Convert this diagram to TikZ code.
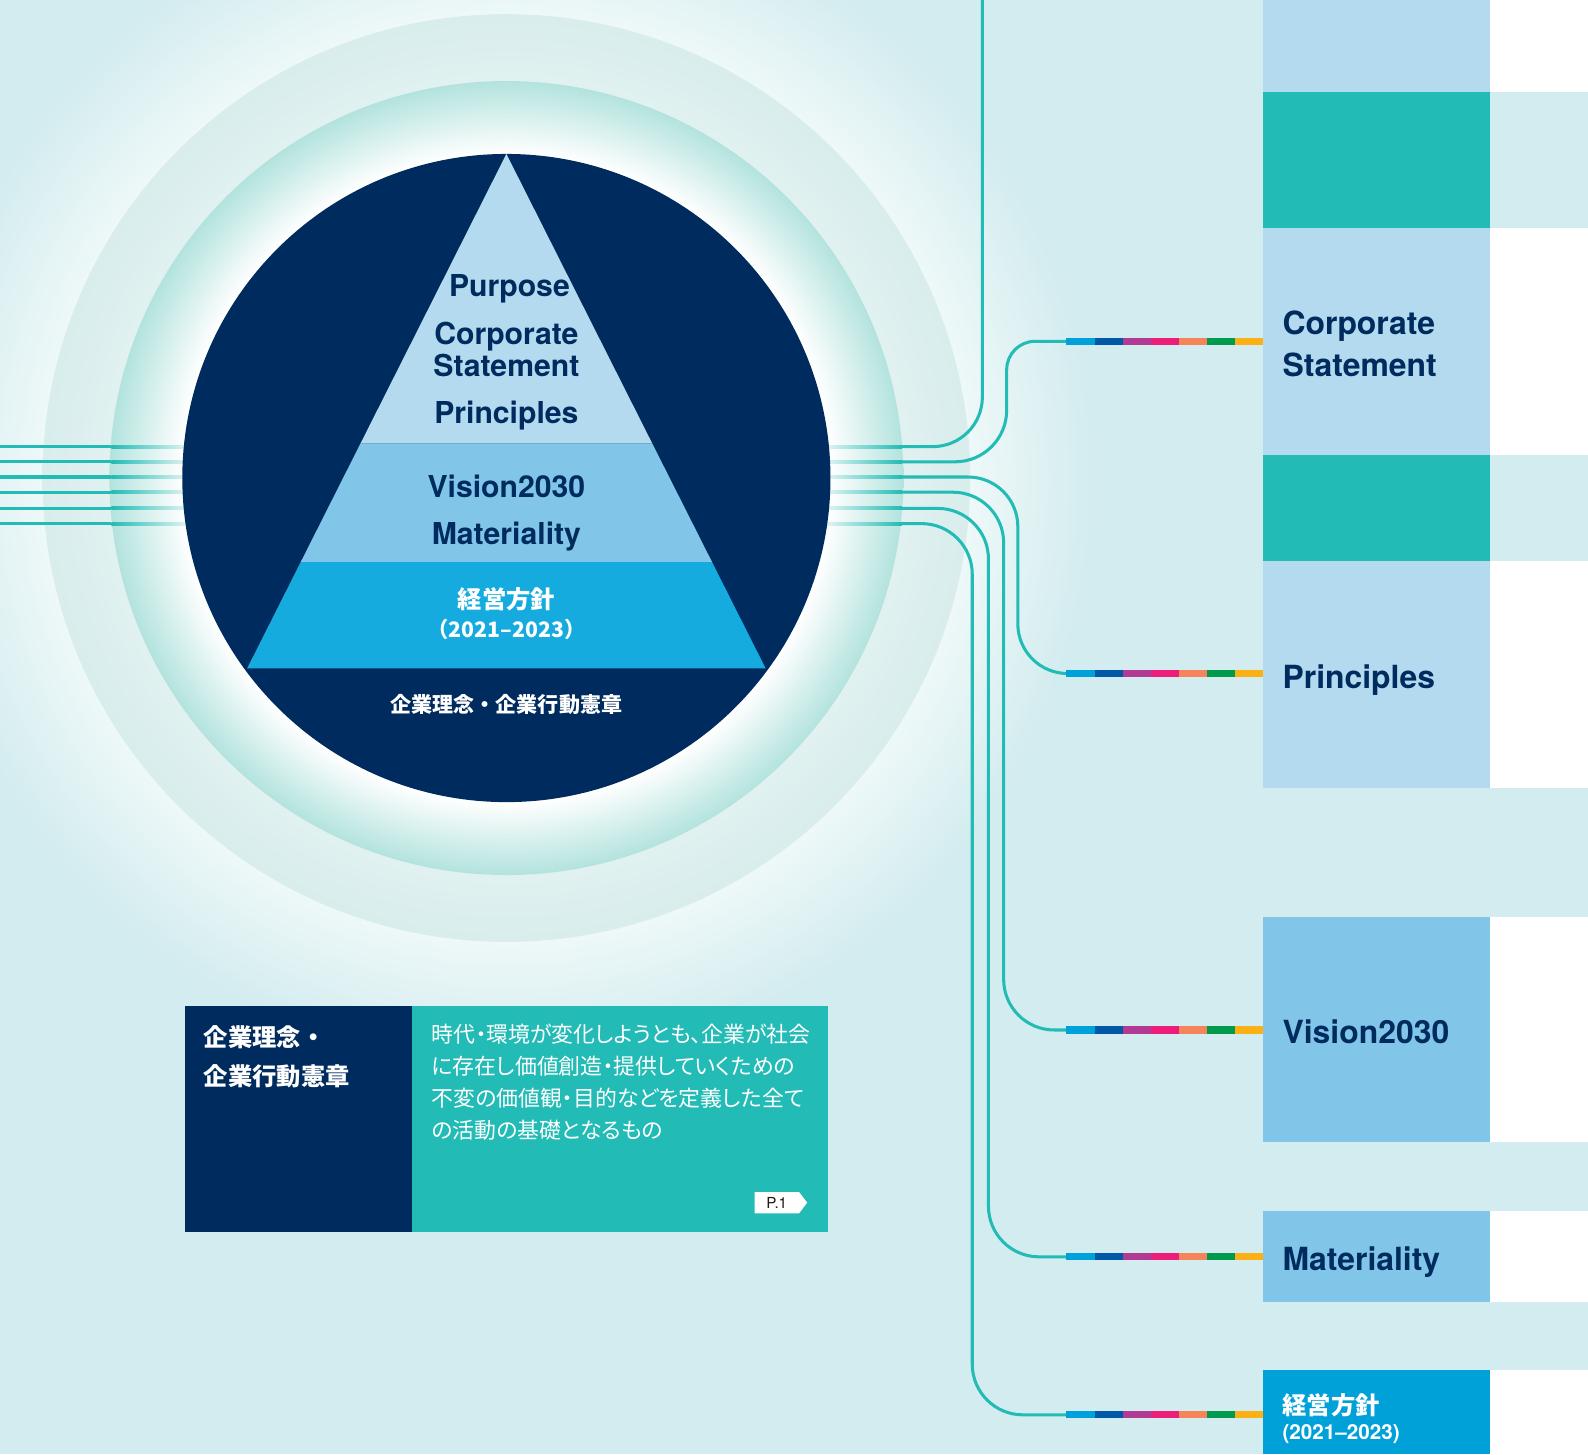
\documentclass[tikz,border=0pt]{standalone}
\usepackage{fontspec}
\setmainfont{TeX Gyre Heros}
\newfontfamily\jp{Noto Sans CJK JP}
\newfontfamily\jpp{Noto Sans CJK JP}[RawFeature=+palt]
\definecolor{bgc}{HTML}{D3ECEF}
\definecolor{glowc}{HTML}{EEF8F8}
\definecolor{obA}{HTML}{E0F1F0}
\definecolor{obB}{HTML}{D8EDEC}
\definecolor{ibB}{HTML}{B3E3DE}
\definecolor{navyc}{HTML}{002B5E}
\definecolor{lbc}{HTML}{B3DAEE}
\definecolor{mbc}{HTML}{81C6E8}
\definecolor{pbc}{HTML}{15ABDE}
\definecolor{bbc}{HTML}{00A0D8}
\definecolor{tealc}{HTML}{22BBB5}
\definecolor{fadec}{HTML}{E4F5F3}
\definecolor{tagtext}{HTML}{231815}
\definecolor{sa}{HTML}{00A0DA}
\definecolor{sb}{HTML}{0059A6}
\definecolor{sc}{HTML}{B03A94}
\definecolor{sd}{HTML}{EC1E79}
\definecolor{se}{HTML}{F5845A}
\definecolor{sf}{HTML}{009A4E}
\definecolor{sg}{HTML}{FBB116}
\pgfdeclareradialshading{glowsh}{\pgfpoint{0bp}{0bp}}{color(0bp)=(glowc); color(19.7bp)=(glowc); color(25bp)=(bgc); color(50bp)=(bgc)}
\pgfdeclareradialshading{outersh}{\pgfpoint{0bp}{0bp}}{color(0bp)=(obA); color(21.4bp)=(obA); color(25bp)=(obB); color(50bp)=(obB)}
\pgfdeclareradialshading{innersh}{\pgfpoint{0bp}{0bp}}{color(0bp)=(white); color(20.4bp)=(white); color(25bp)=(ibB); color(50bp)=(ibB)}
\newcommand\sdgbar[2]{%
  \coordinate (#1) at (1053,#2);
  \foreach \c [count=\i from 0] in {sa,sb,sc,sd,se,sf,sg}{%
    \fill[\c] (1053+\i*27.714,#2-3.6) rectangle ++(27.714,7.2);}%
}
\begin{document}
\begin{tikzpicture}[x=0.5pt,y=-0.5pt,
  conn/.style={draw=tealc,line width=1.5pt},
  pyr/.style={font=\fontsize{14.9}{14.9}\selectfont\bfseries,text=navyc,anchor=base,inner sep=0pt},
  rbox/.style={font=\fontsize{15.75}{15.75}\selectfont\bfseries,text=navyc,anchor=base west,inner sep=0pt},
  jpb/.style={font=\jp\bfseries\fontsize{12}{12}\selectfont,text=white,inner sep=0pt},
  desc/.style={font=\jpp\fontsize{10.8}{10.8}\selectfont,text=white,anchor=base west,inner sep=0pt}]
\useasboundingbox (0,0) rectangle (1568,1436);
\clip (0,0) rectangle (1568,1436);
\fill[bgc] (0,0) rectangle (1568,1436);
% rings
\shade[shading=glowsh] (500,472) circle[radius=580];
\shade[shading=outersh] (500,472) circle[radius=458];
\shade[shading=innersh] (500,472) circle[radius=392];
% right column
\foreach \a/\b in {0/91,225/449,554/778,905/1128,1196/1286,1353/1436}
  \fill[white] (1471,\a) rectangle (1568,\b);
\fill[lbc] (1247,0) rectangle (1471,91);
\fill[tealc] (1247,91) rectangle (1471,225);
\fill[lbc] (1247,225) rectangle (1471,449);
\fill[tealc] (1247,449) rectangle (1471,554);
\fill[lbc] (1247,554) rectangle (1471,778);
\fill[mbc] (1247,905) rectangle (1471,1128);
\fill[mbc] (1247,1196) rectangle (1471,1286);
\fill[bbc] (1247,1353) rectangle (1471,1436);
% left lines
\foreach \y [count=\k] in {441,456,471,486,502,517}{
  \coordinate (La\k) at (-2,\y);
  \coordinate (Lb\k) at (110,\y);
  \draw[conn] (La\k) -- (Lb\k);
  \shade[left color=tealc,right color=fadec] (110,\y-1.5) rectangle (186,\y+1.5);
}
% right lines fade-in
\foreach \y [count=\k] in {441,456,471,486,502,517}{
  \coordinate (R\k) at (890,\y);
  \shade[left color=fadec,right color=tealc] (815,\y-1.5) rectangle (890.5,\y+1.5);
}
\coordinate (T1) at (970,-3);
\coordinate (M2) at (994,396);
\draw[conn,rounded corners=24.5pt] (R1) -- (970,441) -- (T1);
\draw[conn,rounded corners=25.5pt] (R2) -- (994,456) -- (M2);
\draw[conn,rounded corners=14pt] (M2) -- (994,337) -- (1054,337);
\draw[conn,rounded corners=24.5pt] (R3) -- (1005,471) -- (1005,665) -- (1054,665);
\draw[conn,rounded corners=25pt] (R4) -- (991,486) -- (991,1017) -- (1054,1017);
\draw[conn,rounded corners=25pt] (R5) -- (976,502) -- (976,1241) -- (1054,1241);
\draw[conn,rounded corners=25pt] (R6) -- (960,517) -- (960,1397) -- (1054,1397);
\sdgbar{B2}{337}
\sdgbar{B3}{665}
\sdgbar{B4}{1017}
\sdgbar{B5}{1241}
\sdgbar{B6}{1397}
% navy circle and pyramid
\fill[navyc] (500,472) circle[radius=320];
\fill[lbc] (500,152) -- (355.9,438) -- (644.1,438) -- cycle;
\fill[mbc] (355.9,438) -- (644.1,438) -- (703.1,555) -- (296.9,555) -- cycle;
\fill[pbc] (296.9,555) -- (703.1,555) -- (756,660) -- (244,660) -- cycle;
\node[pyr] (p1) at (503,293) {Purpose};
\node[pyr] (p2) at (500,340) {Corporate};
\node[pyr] (p3) at (500,372) {Statement};
\node[pyr] (p4) at (500,418) {Principles};
\node[pyr] (p5) at (500,491) {Vision2030};
\node[pyr] (p6) at (500,538) {Materiality};
\node[jpb,anchor=base] (p7) at (500,601) {経営方針};
\node[jpb,anchor=base,font=\jp\bfseries\fontsize{10.5}{10.5}\selectfont] (p8) at (500,629) {（2021–2023）};
\node[jpb,anchor=base,font=\jp\bfseries\fontsize{10.4}{10.4}\selectfont] (p9) at (500,704) {企業理念・企業行動憲章};
% right box texts
\node[rbox] (c1) at (1266,330) {Corporate};
\node[rbox] (c2) at (1266,372) {Statement};
\node[rbox] (c3) at (1266,680) {Principles};
\node[rbox] (c4) at (1266,1030) {Vision2030};
\node[rbox] (c5) at (1266,1254) {Materiality};
\node[jpb,anchor=base west] (c6) at (1266,1397) {経営方針};
\node[anchor=base west,inner sep=0pt,text=white,font=\fontsize{10.2}{10.2}\selectfont\bfseries] (c7) at (1266,1421) {(2021–2023)};
% left bottom box
\fill[navyc] (183,993) rectangle (407,1216);
\fill[tealc] (407,993) rectangle (818,1216);
\node[jpb,anchor=base west] (t1) at (201,1033) {企業理念・};
\node[jpb,anchor=base west] (t2) at (201,1072) {企業行動憲章};
\node[desc] (d1) at (426,1029) {時代・環境が変化しようとも、企業が社会};
\node[desc] (d2) at (426,1061) {に存在し価値創造・提供していくための};
\node[desc] (d3) at (426,1093) {不変の価値観・目的などを定義した全て};
\node[desc] (d4) at (426,1124) {の活動の基礎となるもの};
\fill[white] (745,1177) -- (789,1177) -- (797,1187.5) -- (789,1198) -- (745,1198) -- cycle;
\node[text=tagtext,inner sep=0pt,font=\fontsize{7.5}{7.5}\selectfont] (tag) at (767,1188) {P.1};
\end{tikzpicture}
\end{document}
